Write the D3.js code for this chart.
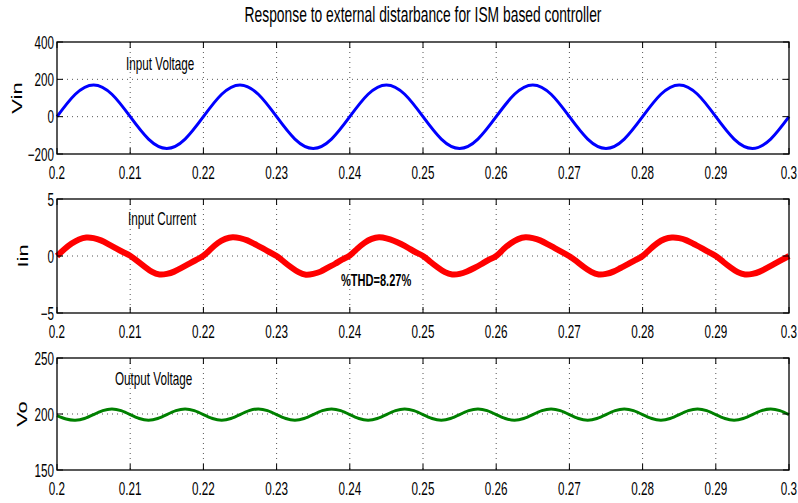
<!DOCTYPE html>
<html>
<head>
<meta charset="utf-8">
<script src="https://cdn.jsdelivr.net/npm/d3@7"></script>
<style>
  body { margin: 0; background: #fff; }
  svg { display: block; font-family: "Liberation Sans", Arial, sans-serif; }
</style>
</head>
<body>
<svg id="chart" width="798" height="503"></svg>
<script>
// --- data ---
const xTicks = [0.2, 0.21, 0.22, 0.23, 0.24, 0.25, 0.26, 0.27, 0.28, 0.29, 0.3];
const xTickLabels = ['0.2', '0.21', '0.22', '0.23', '0.24', '0.25', '0.26', '0.27', '0.28', '0.29', '0.3'];

// input voltage, sampled every 0.0025 s
const vinT = d3.range(41).map(i => 0.2 + i * 0.0025);
const vinValues = [
  0, 120, 170, 120, 0, -120, -170, -120,
  0, 120, 170, 120, 0, -120, -170, -120,
  0, 120, 170, 120, 0, -120, -170, -120,
  0, 120, 170, 120, 0, -120, -170, -120,
  0, 120, 170, 120, 0, -120, -170, -120,
  0
];
const vinTicks = [-200, 0, 200, 400];

// input current, sampled every 0.001 s
const iinT = d3.range(101).map(i => 0.2 + i * 0.001);
const iinValues = [
  0, 0.6, 1.1, 1.45, 1.62, 1.57, 1.37, 1.05, 0.7, 0.35, 0.02, -0.45, -0.95, -1.4, -1.62, -1.57, -1.37, -1.05, -0.7, -0.35,
  0.02, 0.6, 1.15, 1.5, 1.65, 1.57, 1.37, 1.05, 0.72, 0.35, 0.0, -0.5, -1.0, -1.42, -1.64, -1.57, -1.37, -1.02, -0.68, -0.3,
  0.05, 0.62, 1.15, 1.5, 1.64, 1.55, 1.34, 1.05, 0.7, 0.33, 0.0, -0.5, -1.0, -1.42, -1.62, -1.57, -1.35, -1.05, -0.7, -0.33,
  0.0, 0.6, 1.12, 1.48, 1.64, 1.57, 1.37, 1.05, 0.7, 0.35, -0.02, -0.48, -0.98, -1.4, -1.62, -1.57, -1.37, -1.05, -0.72, -0.36,
  0.0, 0.58, 1.12, 1.48, 1.62, 1.57, 1.37, 1.05, 0.72, 0.36, 0.0, -0.5, -1.0, -1.42, -1.62, -1.57, -1.37, -1.05, -0.7, -0.35,
  0.0
];
const iinTicks = [-5, 0, 5];

// output voltage, sampled every 0.00125 s
const voT = d3.range(81).map(i => 0.2 + i * 0.00125);
const voValues = [
  198.5, 195.5, 194.5, 196, 199.5, 203, 204.5, 203,
  199.5, 196, 194.5, 196, 199.5, 203, 204.5, 203,
  199.5, 196, 194.5, 196, 199.5, 203, 204.5, 203,
  199.5, 196, 194.5, 196, 199.5, 203, 204.5, 203,
  199.5, 196, 194.5, 196, 199.5, 203, 204.5, 203,
  199.5, 196, 194.5, 196, 199.5, 203, 204.5, 203,
  199.5, 196, 194.5, 196, 199.5, 203, 204.5, 203,
  199.5, 196, 194.5, 196, 199.5, 203, 204.5, 203,
  199.5, 196, 194.5, 196, 199.5, 203, 204.5, 203,
  199.5, 196, 194.5, 196, 199.5, 203, 204.5, 203,
  199.5
];
const voTicks = [150, 200, 250];

const title = 'Response to external distarbance for ISM based controller';

// --- drawing ---
const svg = d3.select('#chart');
const SQ = 0.65; // the picture is squeezed horizontally
const left = 57, right = 789;
const x = d3.scaleLinear().domain([0.2, 0.3]).range([left, right]);

function label(g, px, py, str, size, anchor, extra) {
  const t = g.append('text')
    .attr('transform', `translate(${px},${py}) scale(${SQ},1)` + (extra || ''))
    .attr('text-anchor', anchor || 'start')
    .attr('font-size', size)
    .attr('fill', '#000')
    .text(str);
  return t;
}

function fmtY(v) { return v < 0 ? '\u2212' + Math.abs(v) : String(v); }

function drawPanel(cfg) {
  const g = svg.append('g');
  const y = d3.scaleLinear().domain(cfg.domain).range([cfg.bottom, cfg.top]);

  // dotted grid
  g.selectAll('.vg').data(xTicks.slice(1, -1)).join('line')
    .attr('x1', d => x(d)).attr('x2', d => x(d))
    .attr('y1', cfg.top).attr('y2', cfg.bottom)
    .attr('stroke', '#555').attr('stroke-width', 1).attr('stroke-dasharray', '1,4');
  g.selectAll('.hg').data(cfg.ticks.slice(1, -1)).join('line')
    .attr('x1', left).attr('x2', right)
    .attr('y1', d => y(d)).attr('y2', d => y(d))
    .attr('stroke', '#555').attr('stroke-width', 1).attr('stroke-dasharray', '1,4');

  // series
  const line = d3.line()
    .x((d, i) => x(cfg.t[i]))
    .y(d => y(d))
    .curve(d3.curveNatural);
  g.append('path').datum(cfg.values)
    .attr('d', line)
    .attr('fill', 'none')
    .attr('stroke', cfg.color)
    .attr('stroke-width', cfg.width)
    .attr('stroke-linejoin', 'round');

  // box
  g.append('rect')
    .attr('x', left).attr('y', cfg.top)
    .attr('width', right - left).attr('height', cfg.bottom - cfg.top)
    .attr('fill', 'none').attr('stroke', '#000').attr('stroke-width', 1.3);

  // inward ticks
  const tl = 6;
  xTicks.forEach(v => {
    g.append('line').attr('x1', x(v)).attr('x2', x(v)).attr('y1', cfg.bottom).attr('y2', cfg.bottom - tl).attr('stroke', '#000');
    g.append('line').attr('x1', x(v)).attr('x2', x(v)).attr('y1', cfg.top).attr('y2', cfg.top + tl).attr('stroke', '#000');
  });
  cfg.ticks.forEach(v => {
    g.append('line').attr('x1', left).attr('x2', left + tl).attr('y1', y(v)).attr('y2', y(v)).attr('stroke', '#000');
    g.append('line').attr('x1', right).attr('x2', right - tl).attr('y1', y(v)).attr('y2', y(v)).attr('stroke', '#000');
  });

  // tick labels
  xTicks.forEach((v, i) => label(g, x(v), cfg.bottom + 25, xTickLabels[i], 18, 'middle'));
  cfg.ticks.forEach(v => label(g, left - 3, y(v) + 6.5, fmtY(v), 18, 'end'));

  // y axis name
  label(g, cfg.ylabX, (cfg.top + cfg.bottom) / 2, cfg.ylabel, 22, 'middle', ' rotate(-90)');

  // annotation
  label(g, cfg.noteX, cfg.noteY, cfg.note, 18, 'start');
  return { g, y };
}

drawPanel({ top: 42, bottom: 154, domain: [-200, 400], ticks: vinTicks, t: vinT, values: vinValues,
  color: '#0000ff', width: 3, ylabel: 'Vin', ylabX: 22, note: 'Input Voltage', noteX: 126, noteY: 70 });

const p2 = drawPanel({ top: 199, bottom: 313, domain: [-5, 5], ticks: iinTicks, t: iinT, values: iinValues,
  color: '#ff0000', width: 6, ylabel: 'Iin', ylabX: 28, note: 'Input Current', noteX: 128, noteY: 225 });
label(p2.g, 341, 286, '%THD=8.27%', 17, 'start').attr('font-weight', 'bold');

drawPanel({ top: 358, bottom: 470, domain: [150, 250], ticks: voTicks, t: voT, values: voValues,
  color: '#008000', width: 3, ylabel: 'Vo', ylabX: 27, note: 'Output Voltage', noteX: 115, noteY: 385 });

label(svg, 423, 22, title, 21.3, 'middle');
</script>
</body>
</html>
